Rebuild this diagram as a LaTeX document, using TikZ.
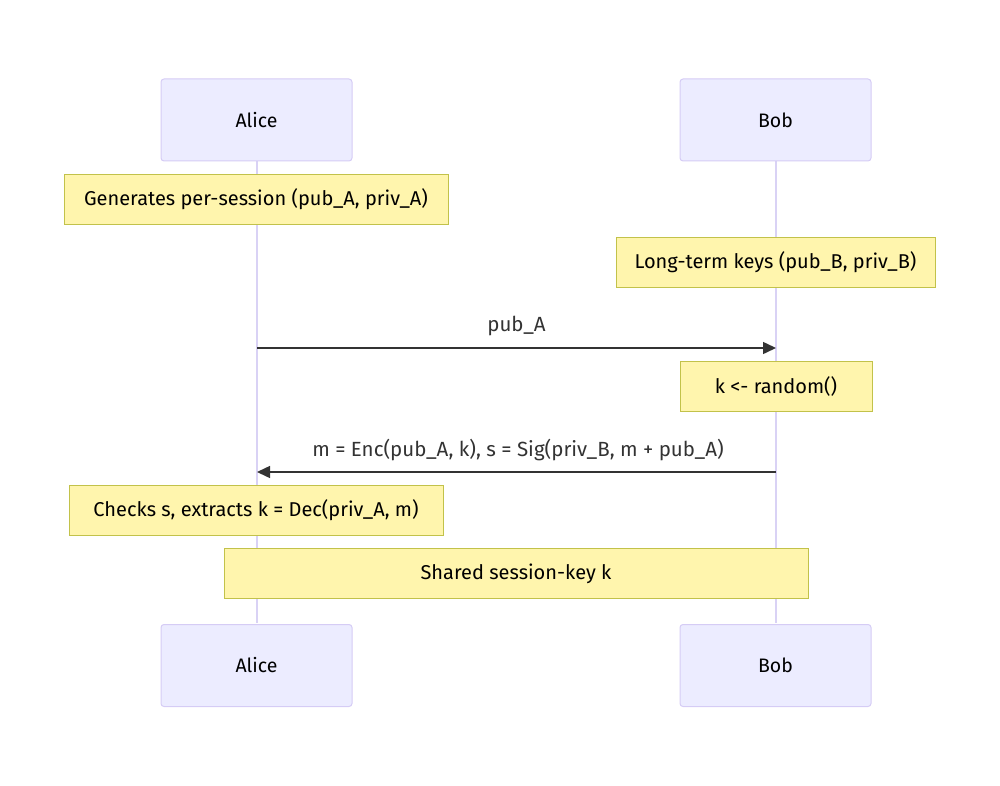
\documentclass[tikz,border=0pt]{standalone}
\usepackage{fontspec}
\setmainfont{Fira Sans}
\usetikzlibrary{arrows.meta}
\definecolor{actorfill}{HTML}{ECECFF}
\definecolor{actorline}{HTML}{D5CCF5}
\definecolor{lifeline}{HTML}{D9D2F5}
\definecolor{notefill}{HTML}{FFF5AD}
\definecolor{noteline}{HTML}{C2C24A}
\definecolor{msg}{HTML}{333333}
\tikzset{
  x=1pt, y=-1pt,
  actor/.style={draw=actorline, fill=actorfill, line width=1pt, rounded corners=3pt, minimum width=191pt, minimum height=82pt, font=\fontsize{19.5}{22}\selectfont, text=black},
  note/.style={draw=noteline, fill=notefill, line width=1pt, minimum height=50pt, font=\fontsize{20}{22}\selectfont, text=black, inner sep=0pt},
  life/.style={draw=lifeline, line width=1.5pt},
  message/.style={draw=msg, line width=1.5pt, -{Triangle[length=13pt,width=12pt]}},
  msglabel/.style={font=\fontsize{20.5}{22}\selectfont, text=msg}
}
\begin{document}
\begin{tikzpicture}
\useasboundingbox (0,0) rectangle (1000,786);
% lifelines
\coordinate (la1) at (257,160);
\coordinate (la2) at (257,623);
\coordinate (lb1) at (776,160);
\coordinate (lb2) at (776,623);
\draw[life] (la1) -- (la2);
\draw[life] (lb1) -- (lb2);
% actors
\node[actor] (aliceT) at (256.5,120) {Alice};
\node[actor] (bobT) at (775.5,120) {Bob};
\node[actor] (aliceB) at (256.5,665.5) {Alice};
\node[actor] (bobB) at (775.5,665.5) {Bob};
% notes
\node[note, minimum width=384pt] (n1) at (256,199.5) {Generates per-session (pub\_A, priv\_A)};
\node[note, minimum width=319pt] (n2) at (775.5,262.5) {Long-term keys (pub\_B, priv\_B)};
% message 1
\coordinate (m1a) at (257,348);
\coordinate (m1b) at (776,348);
\draw[message] (m1a) -- (m1b);
\node[msglabel] (l1) at (516.5,326) {pub\_A};
\node[note, minimum width=192pt] (n3) at (776,386.5) {k <- random()};
% message 2
\coordinate (m2a) at (776,472);
\coordinate (m2b) at (257,472);
\draw[message] (m2a) -- (m2b);
\node[msglabel] (l2) at (518,450) {m = Enc(pub\_A, k), s = Sig(priv\_B, m + pub\_A)};
\node[note, minimum width=374pt] (n4) at (256,510.5) {Checks s, extracts k = Dec(priv\_A, m)};
\node[note, minimum width=584pt] (n5) at (516,573.5) {Shared session-key k};
\end{tikzpicture}
\end{document}
